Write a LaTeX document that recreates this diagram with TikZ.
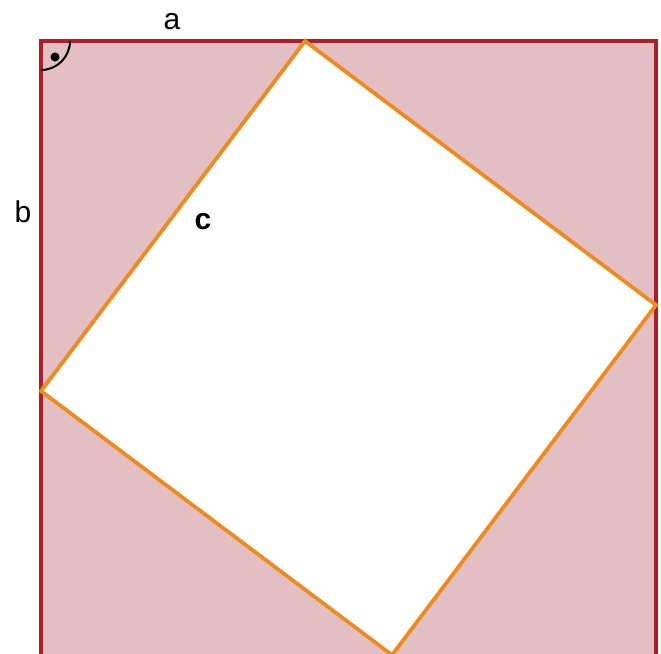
\documentclass[tikz,border=0pt]{standalone}
\usepackage{fontspec}
\setmainfont{Liberation Sans}
\definecolor{pinkfill}{RGB}{227,191,195}
\definecolor{darkred}{RGB}{168,32,42}
\definecolor{orangeline}{RGB}{236,140,32}
\tikzset{
  outerbox/.style={draw=darkred, fill=pinkfill, line width=3.2pt},
  innersq/.style={draw=orangeline, fill=white, line width=3.8pt, line join=miter},
  lbl/.style={font=\fontsize{30}{30}\selectfont, text=black, inner sep=0pt}
}
\begin{document}
\begin{tikzpicture}[x=1pt,y=-1pt]
\useasboundingbox (0,0) rectangle (661,653);
\clip (0,0) rectangle (661,653);
\coordinate (O1) at (41,41);
\coordinate (O2) at (656,41);
\coordinate (O3) at (656,660);
\coordinate (O4) at (41,660);
\draw[outerbox] (O1) -- (O2) -- (O3) -- (O4) -- cycle;
\coordinate (T) at (305,41);
\coordinate (R) at (656,305);
\coordinate (B) at (392,655);
\coordinate (L) at (41,391);
\draw[innersq] (T) -- (R) -- (B) -- (L) -- cycle;
\draw[black, line width=2pt] (70,41) arc[start angle=0, end angle=90, radius=29];
\fill[black] (55,57) circle (4.5);
\node[lbl] (la) at (172,22) {a};
\node[lbl] (lb) at (23,212) {b};
\node[lbl,font=\fontsize{30}{30}\selectfont\bfseries] (lc) at (203,222) {c};
\end{tikzpicture}
\end{document}
